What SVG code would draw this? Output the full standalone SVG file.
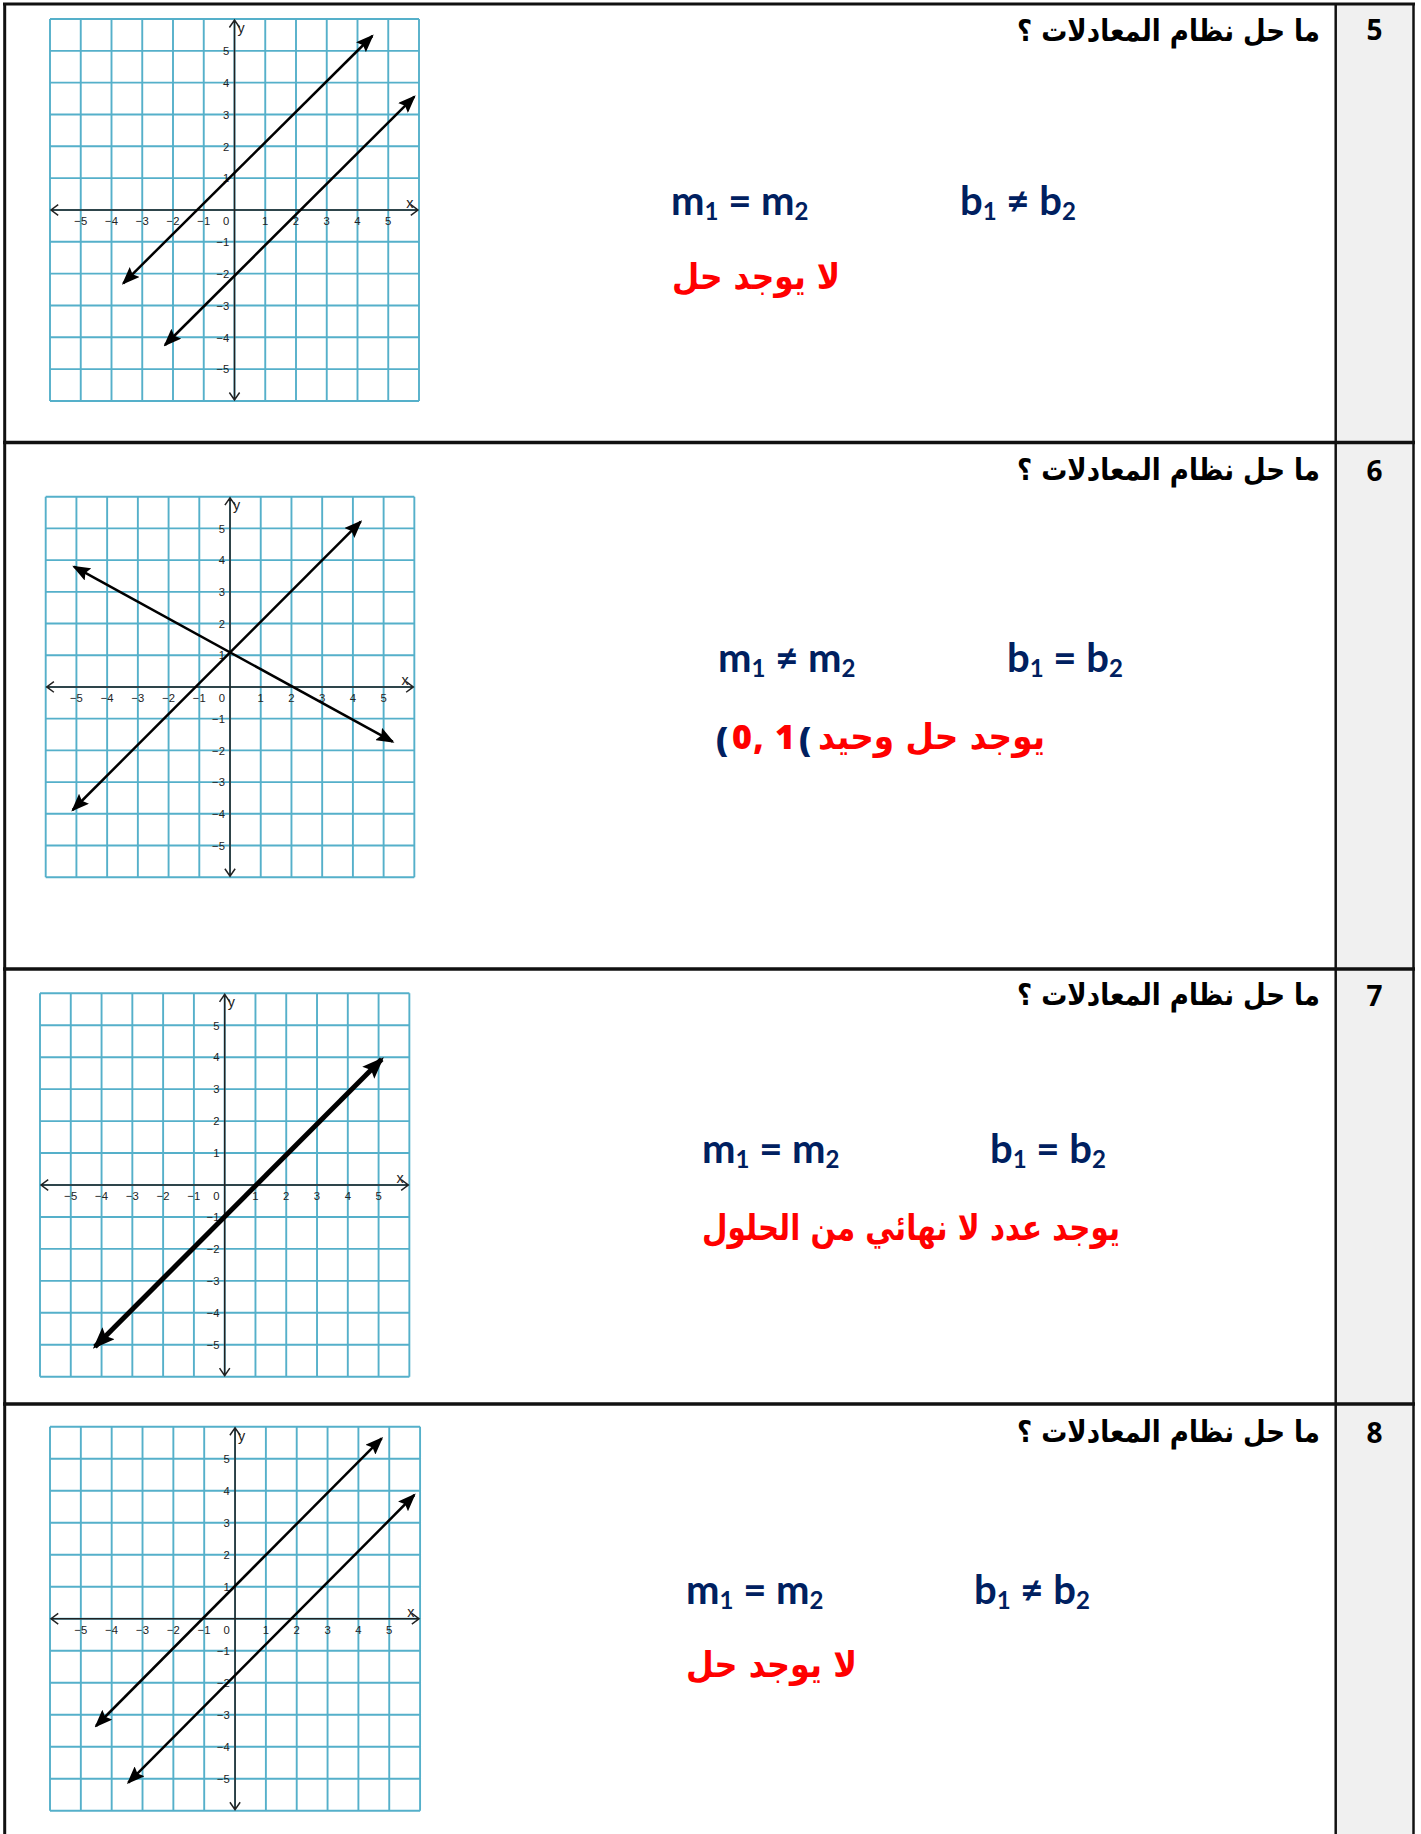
<svg xmlns="http://www.w3.org/2000/svg" xmlns:xlink="http://www.w3.org/1999/xlink" width="1421" height="1834" viewBox="0 0 1421 1834">
<style>
.q{font-family:"DejaVu Sans",sans-serif;font-weight:bold;font-size:30px;fill:#000;text-anchor:middle;direction:rtl}
.num{font-family:"Open Sans","Liberation Sans",sans-serif;font-weight:700;font-size:28px;fill:#000;text-anchor:middle}
.eq{font-family:Lato,"Liberation Sans",sans-serif;font-weight:bold;font-size:40px;fill:#002060}
.sub{font-size:24px}
.ar{font-family:"DejaVu Sans",sans-serif;font-weight:bold;font-size:36px;fill:#ff0000;text-anchor:middle;direction:rtl}
.pn{font-family:"Open Sans","Liberation Sans",sans-serif;font-weight:800;font-size:34px}
.gl{stroke:#55b0ca;stroke-width:1.9;fill:none;vector-effect:non-scaling-stroke}
.ax{stroke:#222;stroke-width:1.5;fill:none;vector-effect:non-scaling-stroke}
.tk{font-family:"Liberation Sans",Arial,sans-serif;font-size:11px;fill:#222}
.tx{text-anchor:middle}
.ty{text-anchor:end}
.lbl{font-family:"Liberation Sans",Arial,sans-serif;font-size:14px;fill:#222}
.ln{stroke:#000;stroke-width:2.5;fill:none;marker-start:url(#ah);marker-end:url(#ah)}
.lnb{stroke:#000;stroke-width:5;fill:none;marker-start:url(#ahb);marker-end:url(#ahb)}
.bd{stroke:#111;fill:none}
</style>
<defs>
<marker id="ah" viewBox="0 0 18 14" markerWidth="18" markerHeight="14" refX="16" refY="7" orient="auto-start-reverse" markerUnits="userSpaceOnUse"><path d="M0 0L18 7L0 14L3 7Z" fill="#000"/></marker>
<marker id="ahb" viewBox="0 0 22 17" markerWidth="22" markerHeight="17" refX="19" refY="8.5" orient="auto-start-reverse" markerUnits="userSpaceOnUse"><path d="M0 0L22 8.5L0 17L4 8.5Z" fill="#000"/></marker>
<g id="grid">
<rect x="0" y="0" width="360" height="360" fill="#fff"/>
<path class="gl" d="M0 0V360M30 0V360M60 0V360M90 0V360M120 0V360M150 0V360M180 0V360M210 0V360M240 0V360M270 0V360M300 0V360M330 0V360M360 0V360M0 0H360M0 30H360M0 60H360M0 90H360M0 120H360M0 150H360M0 180H360M0 210H360M0 240H360M0 270H360M0 300H360M0 330H360M0 360H360"/>
<path class="ax" d="M1 180H359M180 1V359M8 175L1 180L8 185M352 175L359 180L352 185M175 8L180 1L185 8M175 352L180 359L185 352"/>
<g class="tk tx">
<text x="30" y="194">−5</text><text x="60" y="194">−4</text><text x="90" y="194">−3</text><text x="120" y="194">−2</text><text x="150" y="194">−1</text>
<text x="210" y="194">1</text><text x="240" y="194">2</text><text x="270" y="194">3</text><text x="300" y="194">4</text><text x="330" y="194">5</text>
</g>
<g class="tk ty">
<text x="175" y="194">0</text>
<text x="175" y="34">5</text><text x="175" y="64">4</text><text x="175" y="94">3</text><text x="175" y="124">2</text><text x="175" y="154">1</text>
<text x="175" y="214">−1</text><text x="175" y="244">−2</text><text x="175" y="274">−3</text><text x="175" y="304">−4</text><text x="175" y="334">−5</text>
</g>
<text class="lbl" x="351" y="178" text-anchor="middle">x</text>
<text class="lbl" x="183" y="13">y</text>
</g>
</defs>
<rect width="1421" height="1834" fill="#fff"/>
<rect x="1337" y="5" width="75" height="1829" fill="#f0f0f0"/>

<g id="table">
<path class="bd" stroke-width="3" d="M3 4H1415"/>
<path class="bd" stroke-width="3" d="M4.7 3V1834"/>
<path class="bd" stroke-width="2.5" d="M1335.7 3V1834"/>
<path class="bd" stroke-width="2.5" d="M1413.5 3V1834"/>
<path class="bd" stroke-width="3.5" d="M3 442.5H1415M3 969H1415M3 1404H1415"/>
</g>

<g id="row5">
<text class="num" x="1374.5" y="40">5</text>
<text class="q" x="1168.5" y="41" textLength="303" lengthAdjust="spacingAndGlyphs">ما حل نظام المعادلات ؟</text>
<use xlink:href="#grid" href="#grid" transform="translate(50 19) scale(1.025 1.061)"/>
<line class="ln" x1="123.3" y1="283.3" x2="372.3" y2="36"/>
<line class="ln" x1="165" y1="345" x2="414.3" y2="96.7"/>
<text class="eq" x="671" y="215">m<tspan class="sub" dy="5">1</tspan><tspan dy="-5"> = m</tspan><tspan class="sub" dy="5">2</tspan></text>
<text class="eq" x="960" y="215">b<tspan class="sub" dy="5">1</tspan><tspan dy="-5"> ≠ b</tspan><tspan class="sub" dy="5">2</tspan></text>
<text class="ar" x="756" y="289" textLength="168" lengthAdjust="spacingAndGlyphs">لا يوجد حل</text>
</g>

<g id="row6">
<text class="num" x="1374.5" y="481">6</text>
<text class="q" x="1168.5" y="480" textLength="303" lengthAdjust="spacingAndGlyphs">ما حل نظام المعادلات ؟</text>
<use xlink:href="#grid" href="#grid" transform="translate(45.7 496.7) scale(1.024 1.057)"/>
<line class="ln" x1="74" y1="566.7" x2="392.7" y2="741.7"/>
<line class="ln" x1="72.7" y1="810" x2="360.7" y2="521.7"/>
<text class="eq" x="718" y="672">m<tspan class="sub" dy="5">1</tspan><tspan dy="-5"> ≠ m</tspan><tspan class="sub" dy="5">2</tspan></text>
<text class="eq" x="1007" y="672">b<tspan class="sub" dy="5">1</tspan><tspan dy="-5"> = b</tspan><tspan class="sub" dy="5">2</tspan></text>
<text class="pn" x="716" y="752" fill="#002060">(</text>
<text class="pn" x="732" y="749" fill="#ff0000" textLength="63" lengthAdjust="spacing">0, 1</text>
<text class="pn" x="799" y="752" fill="#002060">(</text>
<text class="ar" x="931.5" y="749" textLength="227" lengthAdjust="spacingAndGlyphs">يوجد حل وحيد</text>
</g>

<g id="row7">
<text class="num" x="1374.5" y="1006">7</text>
<text class="q" x="1168.5" y="1005" textLength="303" lengthAdjust="spacingAndGlyphs">ما حل نظام المعادلات ؟</text>
<use xlink:href="#grid" href="#grid" transform="translate(40 993.3) scale(1.026 1.065)"/>
<line class="lnb" x1="95" y1="1346.7" x2="381.7" y2="1059.3"/>
<text class="eq" x="702" y="1163">m<tspan class="sub" dy="5">1</tspan><tspan dy="-5"> = m</tspan><tspan class="sub" dy="5">2</tspan></text>
<text class="eq" x="990" y="1163">b<tspan class="sub" dy="5">1</tspan><tspan dy="-5"> = b</tspan><tspan class="sub" dy="5">2</tspan></text>
<text class="ar" x="911" y="1240" textLength="418" lengthAdjust="spacingAndGlyphs">يوجد عدد لا نهائي من الحلول</text>
</g>

<g id="row8">
<text class="num" x="1374.5" y="1443">8</text>
<text class="q" x="1168.5" y="1442" textLength="303" lengthAdjust="spacingAndGlyphs">ما حل نظام المعادلات ؟</text>
<use xlink:href="#grid" href="#grid" transform="translate(50 1426.7) scale(1.028 1.067)"/>
<line class="ln" x1="96" y1="1726" x2="381.7" y2="1438.3"/>
<line class="ln" x1="128.3" y1="1782.7" x2="414.3" y2="1495"/>
<text class="eq" x="686" y="1604">m<tspan class="sub" dy="5">1</tspan><tspan dy="-5"> = m</tspan><tspan class="sub" dy="5">2</tspan></text>
<text class="eq" x="974" y="1604">b<tspan class="sub" dy="5">1</tspan><tspan dy="-5"> ≠ b</tspan><tspan class="sub" dy="5">2</tspan></text>
<text class="ar" x="771.5" y="1677" textLength="171" lengthAdjust="spacingAndGlyphs">لا يوجد حل</text>
</g>
</svg>
